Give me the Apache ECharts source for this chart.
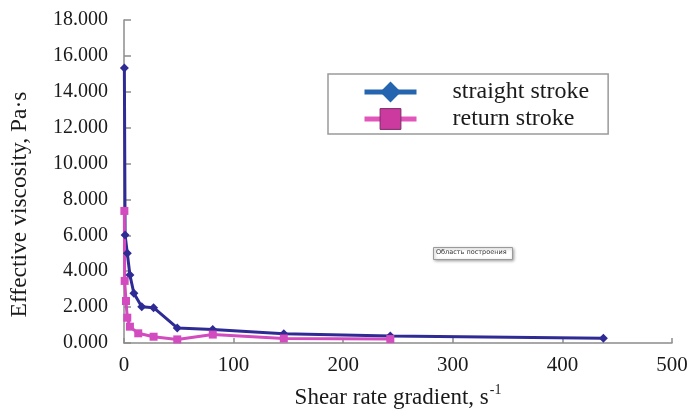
<!DOCTYPE html>
<html>
<head>
<meta charset="utf-8">
<script src="https://cdn.jsdelivr.net/npm/echarts@6/dist/echarts.min.js"></script>
<style>
html,body{margin:0;padding:0;background:#fff;}
#chart{width:692px;height:410px;}
</style>
</head>
<body>
<div id="chart"></div>
<script>
// Shear rate (s^-1) and effective viscosity (Pa·s)
const straightX = [0.33, 1.0, 3.0, 5.4, 9.0, 16.2, 27.0, 48.6, 81.0, 145.8, 243.0, 437.4];
const straightY = [15.33, 6.02, 5.00, 3.79, 2.77, 2.02, 1.97, 0.84, 0.75, 0.52, 0.39, 0.26];
const returnX = [0.33, 0.6, 1.8, 3.0, 5.4, 13.0, 27.0, 48.6, 81.0, 145.8, 243.0];
const returnY = [7.36, 3.46, 2.34, 1.41, 0.91, 0.54, 0.35, 0.20, 0.47, 0.25, 0.22];
const seriesNames = ['straight stroke', 'return stroke'];
const xTicks = {min: 0, max: 500, interval: 100};
const yTicks = {min: 0, max: 18, interval: 2};

const pair = (xs, ys) => xs.map((x, i) => [x, ys[i]]);
const font = 'Liberation Serif';

const chart = echarts.init(document.getElementById('chart'));
chart.setOption({
  animation: false,
  backgroundColor: '#fff',
  grid: {left: 124, right: 20, top: 20, bottom: 67, containLabel: false, outerBoundsMode: 'none'},
  xAxis: {
    type: 'value', min: xTicks.min, max: xTicks.max, interval: xTicks.interval,
    name: '{a|Shear rate gradient, s}{s|-1}',
    nameLocation: 'middle', nameGap: 40,
    nameTextStyle: {
      rich: {
        a: {fontFamily: font, fontSize: 23, color: '#1a1a1a', verticalAlign: 'bottom', lineHeight: 26},
        s: {fontFamily: font, fontSize: 14, color: '#1a1a1a', verticalAlign: 'top', lineHeight: 26, padding: [0,0,10,1]}
      }
    },
    axisLine: {lineStyle: {color: '#8c8c8c', width: 1.5}},
    axisTick: {inside: true, length: 5, lineStyle: {color: '#8c8c8c', width: 1.5}},
    axisLabel: {fontFamily: font, fontSize: 21, color: '#1a1a1a', margin: 12},
    splitLine: {show: false}
  },
  yAxis: {
    type: 'value', min: yTicks.min, max: yTicks.max, interval: yTicks.interval,
    name: 'Effective viscosity, Pa·s',
    nameLocation: 'middle', nameGap: 92, nameRotate: 90,
    nameTextStyle: {fontFamily: font, fontSize: 23.5, color: '#1a1a1a', padding: [0, 46, 0, 0]},
    axisLine: {show: true, lineStyle: {color: '#8c8c8c', width: 1.5}},
    axisTick: {show: true, inside: true, length: 7, lineStyle: {color: '#8c8c8c', width: 1.5}},
    axisLabel: {fontFamily: font, fontSize: 20, color: '#1a1a1a', margin: 16,
      formatter: v => v.toFixed(3)},
    splitLine: {show: false}
  },
  legend: {
    left: 328, top: 74, orient: 'vertical',
    padding: [6, 19, 3, 34],
    itemWidth: 52, itemHeight: 26, itemGap: 3,
    borderColor: '#9a9a9a', borderWidth: 1.5, backgroundColor: '#fff',
    textStyle: {fontFamily: font, fontSize: 24, color: '#1a1a1a',
      rich: {a: {fontFamily: font, fontSize: 24, color: '#1a1a1a', padding: [0,0,0,31]}}},
    formatter: n => '{a|' + n + '}',
    data: [
      {name: seriesNames[0], itemStyle: {color: '#2565b0', borderWidth: 0},
        lineStyle: {color: '#2565b0', width: 5}},
      {name: seriesNames[1], itemStyle: {color: '#cc3a9f', borderColor: '#7a2a66', borderWidth: 1},
        lineStyle: {color: '#e256bb', width: 5}}
    ]
  },
  series: [
    {
      name: seriesNames[0], type: 'line', data: pair(straightX, straightY),
      symbol: 'diamond', symbolSize: 9,
      lineStyle: {color: '#2f2b94', width: 3},
      itemStyle: {color: '#2f2b94'}
    },
    {
      name: seriesNames[1], type: 'line', data: pair(returnX, returnY),
      symbol: 'rect', symbolSize: 8,
      lineStyle: {color: '#d24bbf', width: 3},
      itemStyle: {color: '#d24bbf'}
    }
  ],
  graphic: [
    {type: 'rect', left: 433, top: 247, shape: {width: 79, height: 12},
      style: {fill: '#fff', stroke: '#9a9a9a', lineWidth: 1, shadowBlur: 3, shadowColor: 'rgba(0,0,0,0.35)', shadowOffsetX: 1, shadowOffsetY: 1}},
    {type: 'text', left: 436, top: 249,
      style: {text: 'Область построения', fontFamily: 'DejaVu Sans', fontSize: 6.5, fill: '#333'}}
  ]
});
</script>
</body>
</html>
